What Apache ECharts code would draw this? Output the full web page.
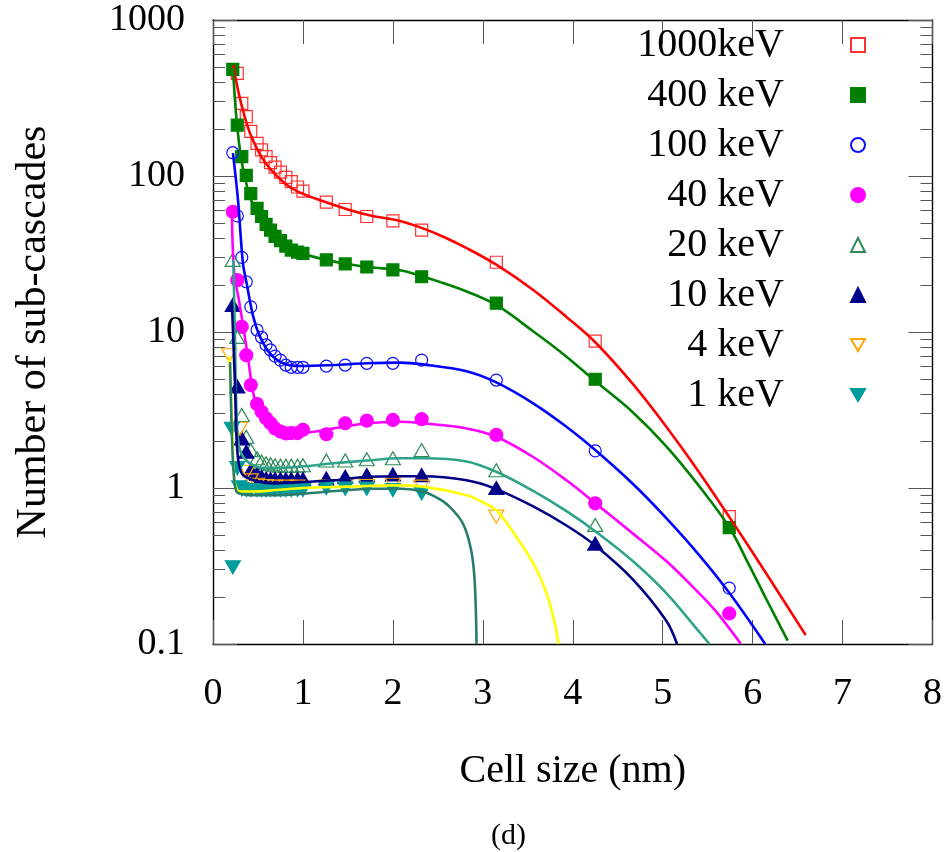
<!DOCTYPE html>
<html>
<head>
<meta charset="utf-8">
<script src="https://cdn.jsdelivr.net/npm/echarts@6/dist/echarts.min.js"></script>
<style>
html,body{margin:0;padding:0;background:#fff;}
#chart{width:945px;height:852px;}
</style>
</head>
<body>
<div id="chart"></div>
<script>
// ---- data ----
const seriesNames = ['1000keV', '400 keV', '100 keV', '40 keV', '20 keV', '10 keV', '4 keV', '1 keV'];

const xs = [0.22, 0.27, 0.32, 0.37, 0.42, 0.49, 0.54, 0.59, 0.64, 0.69, 0.75, 0.81, 0.87, 0.94, 1.0, 1.26, 1.47, 1.71, 2.0, 2.32, 3.15, 4.25, 5.74];
const y1000 = [null, 455, 292, 240, 193, 162, 147, 133, 122, 114, 106, 98, 92, 85, 80, 68, 61, 55, 51.5, 45, 28, 8.75, 0.655];
const y400 = [483, 212, 133, 101, 77, 62, 55, 49, 45, 41, 38.5, 35.5, 33.5, 32.5, 31.9, 29, 27.3, 26.1, 25, 22.6, 15.3, 4.98, 0.557];
const y100 = [141, 55.5, 30.1, 21, 14.5, 10.3, 9.25, 8.26, 7.67, 7.0, 6.6, 6.14, 5.94, 5.94, 5.94, 6.05, 6.14, 6.3, 6.3, 6.6, 4.92, 1.73, 0.228];
const y40 = [59, 21.5, 10.8, 7.1, 4.57, 3.45, 3.08, 2.8, 2.6, 2.41, 2.3, 2.24, 2.25, 2.25, 2.36, 2.21, 2.6, 2.7, 2.73, 2.76, 2.19, 0.798, 0.157];
const y20 = [29, 9.3, 2.94, 2.13, 1.75, 1.55, 1.48, 1.44, 1.42, 1.4, 1.39, 1.39, 1.39, 1.39, 1.4, 1.5, 1.5, 1.53, 1.55, 1.75, 1.3, 0.58, null];
const y10 = [14.9, 4.47, 2.08, 1.71, 1.3, 1.23, 1.18, 1.15, 1.14, 1.14, 1.14, 1.14, 1.14, 1.14, 1.14, 1.15, 1.18, 1.21, 1.22, 1.21, 1.0, 0.44, null];
const x4 = [0.18, 0.30, 0.38, 0.42, 0.49, 0.59, 0.69, 0.81, 0.94, 1.26, 1.47, 1.71, 2.0, 2.32, 3.15];
const y4 = [7.1, 2.4, 1.27, 1.12, 1.05, 1.03, 1.02, 1.02, 1.02, 1.02, 1.03, 1.03, 1.05, 1.02, 0.655];
const x1 = [0.21, 0.22, 0.27, 0.29, 0.32, 0.37, 0.42, 0.49, 0.54, 0.59, 0.64, 0.69, 0.75, 0.81, 0.87, 0.94, 1.0, 1.26, 1.47, 1.71, 2.0, 2.32];
const y1 = [2.4, 0.31, 1.34, 1.01, 0.98, 0.97, 0.97, 0.97, 0.97, 0.97, 0.97, 0.97, 0.97, 0.97, 0.97, 0.97, 0.97, 1.0, 0.99, 0.99, 0.97, 0.925];

// fitted curves (sampled along the drawn lines)
const fit1000X = [0.226, 0.278, 0.352, 0.426, 0.537, 0.648, 0.796, 0.944, 1.13, 1.5, 1.75, 2.08, 2.32, 2.56, 2.82, 3.15, 3.56, 3.93, 4.25, 4.67, 5.04, 5.41, 5.74, 6.15, 6.59];
const fit1000Y = [515, 356, 240, 179, 133, 109, 90, 79.4, 72, 61, 55.8, 51.5, 46.5, 40.8, 34.5, 27, 18.6, 12.5, 8.6, 4.63, 2.47, 1.25, 0.653, 0.284, 0.114];
const fit400X = [0.222, 0.259, 0.315, 0.389, 0.463, 0.611, 0.796, 1.02, 1.26, 1.5, 1.75, 2.08, 2.32, 2.82, 3.15, 3.56, 3.93, 4.25, 4.67, 5.04, 5.41, 5.74, 5.95, 6.15, 6.39];
const fit400Y = [490, 240, 127, 81, 62, 45, 37, 31.6, 29, 27.3, 26, 24.9, 22.8, 18.2, 14.9, 10.1, 6.95, 4.85, 3.05, 1.85, 1.02, 0.56, 0.33, 0.195, 0.105];
const fit100X = [0.222, 0.278, 0.333, 0.374, 0.448, 0.522, 0.633, 0.781, 0.967, 1.34, 1.71, 2.08, 2.33, 2.82, 3.15, 3.56, 3.93, 4.25, 4.67, 5.04, 5.41, 5.74, 6.14];
const fit100Y = [140, 70, 27.5, 20.5, 12.5, 9.34, 7.3, 6.3, 6.05, 6.14, 6.3, 6.36, 6.2, 5.6, 4.75, 3.49, 2.47, 1.75, 1.06, 0.641, 0.369, 0.213, 0.1];
const fit40X = [0.21, 0.222, 0.244, 0.28, 0.337, 0.393, 0.448, 0.522, 0.633, 0.815, 1.04, 1.34, 1.71, 2.08, 2.33, 2.82, 3.15, 3.56, 3.93, 4.25, 4.67, 5.04, 5.41, 5.6, 5.87];
const fit40Y = [59, 32, 22, 17, 10.8, 6.6, 4.05, 3.01, 2.6, 2.3, 2.27, 2.41, 2.6, 2.66, 2.6, 2.41, 2.13, 1.58, 1.12, 0.8, 0.51, 0.34, 0.21, 0.16, 0.1];
const fit20X = [0.226, 0.244, 0.263, 0.3, 0.41, 0.6, 0.967, 1.34, 1.71, 2.08, 2.33, 2.82, 3.15, 3.56, 3.93, 4.25, 4.67, 5.04, 5.41, 5.52];
const fit20Y = [29, 9.8, 2.87, 1.75, 1.44, 1.34, 1.37, 1.44, 1.5, 1.55, 1.55, 1.48, 1.27, 0.957, 0.71, 0.528, 0.339, 0.212, 0.119, 0.1];
const fit10X = [0.21, 0.244, 0.27, 0.32, 0.45, 0.67, 0.967, 1.34, 1.71, 2.08, 2.33, 2.82, 3.15, 3.56, 3.93, 4.25, 4.67, 5.04, 5.16];
const fit10Y = [15.5, 4.69, 1.75, 1.24, 1.12, 1.07, 1.09, 1.12, 1.18, 1.19, 1.19, 1.12, 0.984, 0.762, 0.575, 0.428, 0.259, 0.141, 0.1];
const fit4X = [0.18, 0.2, 0.22, 0.24, 0.3, 0.45, 0.7, 1.0, 1.5, 2.0, 2.33, 2.82, 3.0, 3.15, 3.3, 3.56, 3.71, 3.8, 3.84];
const fit4Y = [6.95, 4, 1.9, 1.1, 0.95, 0.95, 0.97, 1.0, 1.02, 1.04, 1.02, 0.9, 0.81, 0.72, 0.56, 0.33, 0.21, 0.136, 0.1];
const fit1X = [0.19, 0.2, 0.215, 0.235, 0.26, 0.3, 0.45, 0.7, 1.0, 1.4, 1.8, 2.1, 2.33, 2.5, 2.63, 2.78, 2.87, 2.91, 2.93];
const fit1Y = [6.4, 3.5, 1.8, 1.15, 0.95, 0.92, 0.9, 0.9, 0.92, 0.96, 0.99, 0.99, 0.95, 0.86, 0.76, 0.59, 0.4, 0.25, 0.1];

const yTickValues = [0.1, 1, 10, 100, 1000];
const xTickMax = 8;

// ---- build chart ----
const FONT = '"Liberation Serif", "DejaVu Serif", serif';
function pairs(x, y) {
  const out = [];
  for (let i = 0; i < x.length; i++) if (y[i] != null) out.push([x[i], y[i]]);
  return out;
}

const invTri = 'path://M0,0L20,0L10,17.32Z';
const markerDefs = [
  { x: xs, y: y1000, symbol: 'rect', size: 12, fill: 'rgba(0,0,0,0)', stroke: '#ff3030' },
  { x: xs, y: y400, symbol: 'rect', size: 12, fill: '#008000', stroke: '#008000' },
  { x: xs, y: y100, symbol: 'circle', size: 12, fill: 'rgba(0,0,0,0)', stroke: '#1010ff' },
  { x: xs, y: y40, symbol: 'circle', size: 13, fill: '#ff00ff', stroke: '#ff00ff' },
  { x: xs, y: y20, symbol: 'triangle', size: [15, 13], fill: 'rgba(0,0,0,0)', stroke: '#2e8b57' },
  { x: xs, y: y10, symbol: 'triangle', size: [15, 13], fill: '#00008b', stroke: '#00008b' },
  { x: x4, y: y4, symbol: invTri, size: [15, 13], fill: 'rgba(0,0,0,0)', stroke: '#ffa500' },
  { x: x1, y: y1, symbol: invTri, size: [15, 13], fill: '#009b9b', stroke: '#009b9b' }
];
const fitDefs = [
  { x: fit1000X, y: fit1000Y, color: '#ff0000' },
  { x: fit400X, y: fit400Y, color: '#008000' },
  { x: fit100X, y: fit100Y, color: '#0000ff' },
  { x: fit40X, y: fit40Y, color: '#ff00ff' },
  { x: fit20X, y: fit20Y, color: '#2fa38a' },
  { x: fit10X, y: fit10Y, color: '#000080' },
  { x: fit4X, y: fit4Y, color: '#ffff00' },
  { x: fit1X, y: fit1Y, color: '#2a7d6c' }
];

const series = [];
markerDefs.forEach((m, i) => {
  series.push({
    name: seriesNames[i], type: 'scatter', xAxisIndex: 0, yAxisIndex: 0,
    data: pairs(m.x, m.y), symbol: m.symbol, symbolSize: m.size,
    itemStyle: { color: m.fill, borderColor: m.stroke, borderWidth: 1.2, opacity: 1 },
    z: 2, silent: true, animation: false
  });
});
fitDefs.forEach((f, i) => {
  series.push({
    name: seriesNames[i] + ' fit', type: 'line', xAxisIndex: 0, yAxisIndex: 0,
    data: pairs(f.x, f.y), showSymbol: false, smooth: 0.35, clip: true,
    lineStyle: { color: f.color, width: 2.6 }, itemStyle: { color: f.color },
    z: 3, silent: true, animation: false
  });
});

const tickStyle = { color: '#555', width: 1 };
const axisLineStyle = { color: '#000', width: 1.4 };
function yAxisDef(position, withLabels) {
  return {
    type: 'log', logBase: 10, min: 0.1, max: 1000, position: position,
    name: withLabels ? 'Number of sub-cascades' : '', nameLocation: 'middle', nameGap: 158,
    nameTextStyle: { fontFamily: FONT, fontSize: 42, color: '#000' },
    axisLine: { show: true, onZero: false, lineStyle: axisLineStyle },
    axisTick: { show: true, inside: true, length: 24, lineStyle: tickStyle },
    minorTick: { show: true, splitNumber: 9, length: 12, lineStyle: tickStyle },
    axisLabel: { show: withLabels, margin: 28, fontFamily: FONT, fontSize: 38, color: '#000',
      customValues: yTickValues, formatter: v => String(v) },
    splitLine: { show: false }, minorSplitLine: { show: false }
  };
}
function xAxisDef(position, withLabels) {
  return {
    type: 'value', min: 0, max: xTickMax, interval: 1, position: position,
    name: withLabels ? 'Cell size (nm)' : '', nameLocation: 'middle', nameGap: 107,
    nameTextStyle: { fontFamily: FONT, fontSize: 40, color: '#000' },
    axisLine: { show: true, onZero: false, lineStyle: axisLineStyle },
    axisTick: { show: true, inside: true, length: 24, lineStyle: tickStyle },
    axisLabel: { show: withLabels, margin: 31, fontFamily: FONT, fontSize: 38, color: '#000' },
    splitLine: { show: false }
  };
}

const option = {
  backgroundColor: '#fff',
  animation: false,
  grid: { left: 213, right: 11, top: 20, bottom: 208, containLabel: false },
  legend: {
    data: seriesNames, orient: 'vertical', align: 'right',
    right: 74, top: 20, itemWidth: 14, itemHeight: 14, itemGap: 10,
    selectedMode: false,
    formatter: n => '{t|' + n + '}',
    textStyle: { color: '#000', fontFamily: FONT, fontSize: 40,
      rich: { t: { fontFamily: FONT, fontSize: 40, lineHeight: 40, width: 170, align: 'right', padding: [0, 62, 0, 0], color: '#000' } } }
  },
  xAxis: [xAxisDef('bottom', true), xAxisDef('top', false)],
  yAxis: [yAxisDef('left', true), yAxisDef('right', false)],
  graphic: [
    { type: 'text', left: 508 - 17, top: 835 - 14,
      style: { text: '(d)', fontFamily: FONT, fontSize: 30, fill: '#000' } }
  ],
  series: series
};
const chart = echarts.init(document.getElementById('chart'), null, { renderer: 'canvas' });
chart.setOption(option);
</script>
</body>
</html>
